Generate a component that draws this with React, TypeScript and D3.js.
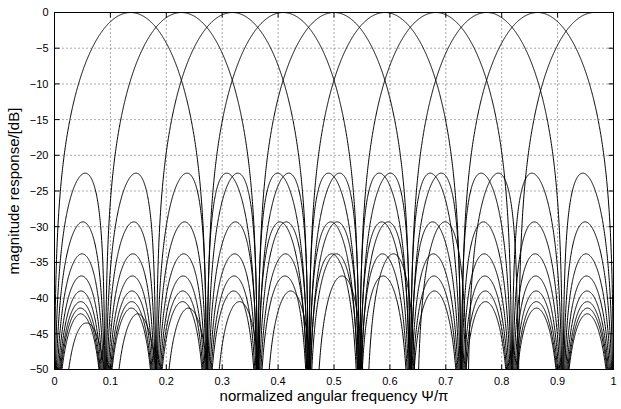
import React from "react";
import * as d3 from "d3";

// Channel centre frequencies (Ψ/π) read from the main-lobe peaks
const channelCenters = [0.136, 0.227, 0.318, 0.409, 0.5, 0.591, 0.682, 0.773, 0.864, 0.966];
// The last (band-edge) channel stays at 0 dB up to Ψ/π = 1
const flatAbovePeak = [false, false, false, false, false, false, false, false, false, true];
// Null spacing (Ψ/π): one side lobe every 1/11
const lobeWidth = 0.0909;
// Side-lobe peak levels [dB], lobes 2..10 bins away from a peak
const sidelobeLevels = [-22.5, -29.3, -33.8, -36.9, -39.0, -40.5, -41.4, -42.2, -43.5];
const xTicks = [0, 0.1, 0.2, 0.3, 0.4, 0.5, 0.6, 0.7, 0.8, 0.9, 1];
const yTicks = [-50, -45, -40, -35, -30, -25, -20, -15, -10, -5, 0];

const W = 621, H = 409;
const L = 54.5, R = 613.5, T = 12.5, B = 369.5;

// cosine-tapered kernel (sine-window shape), u in bins
const M = 18;
const s0 = Math.sin(Math.PI / (2 * M));
function kernel(u: number): number {
  const a = Math.abs(u);
  const s = Math.sin((Math.PI * a) / M) / s0;
  const den = 1 - s * s;
  if (Math.abs(a - 0.5) < 1e-4) return Math.PI / 4;
  return Math.cos(Math.PI * a) / den;
}
// peak of the kernel inside lobe k (for calibrating the read levels)
function lobePeak(k: number): number {
  let m = 0;
  for (let u = k - 0.5; u <= k + 0.5; u += 0.002) m = Math.max(m, Math.abs(kernel(u)));
  return 20 * Math.log10(m);
}
const corrDb = sidelobeLevels.map((lev, i) => lev - lobePeak(i + 2));
function corr(a: number): number {
  if (a < 1.5) return 0;
  const i = a - 2;
  if (i <= 0) return corrDb[0];
  if (i >= corrDb.length - 1) return corrDb[corrDb.length - 1];
  const k = Math.floor(i);
  const f = i - k;
  return corrDb[k] * (1 - f) + corrDb[k + 1] * f;
}
function response(u: number): number {
  const a = Math.abs(u);
  return Math.abs(kernel(a)) * Math.pow(10, corr(a) / 20);
}

export default function App() {
  const x = d3.scaleLinear().domain([0, 1]).range([L, R]);
  const y = d3.scaleLinear().domain([-50, 0]).range([B, T]);
  const grid = d3.range(0, 1.00001, 0.0004);
  const line = d3
    .line<[number, number]>()
    .x((d) => x(d[0]))
    .y((d) => y(d[1]));

  const curves = channelCenters.map((c, ci) =>
    grid.map((p) => {
      let u = (p - c) / lobeWidth;
      if (flatAbovePeak[ci] && u > 0) u = 0;
      const a = response(u);
      const db = Math.max(-70, 20 * Math.log10(a + 1e-9));
      return [p, db] as [number, number];
    })
  );

  const font = "'Liberation Sans', Arial, Helvetica, sans-serif";
  return (
    <svg
      width={W}
      height={H}
      style={{ position: "absolute", left: 0, top: 0, background: "#fff" }}
      fontFamily={font}
    >
      <defs>
        <clipPath id="plotClip">
          <rect x={L} y={T} width={R - L} height={B - T} />
        </clipPath>
      </defs>
      <rect x={0} y={0} width={W} height={H} fill="#fff" />
      {xTicks.slice(1, -1).map((t) => (
        <line key={"gx" + t} x1={x(t)} x2={x(t)} y1={T} y2={B} stroke="#555" strokeWidth={1} strokeDasharray="1,3" />
      ))}
      {yTicks.slice(1, -1).map((t) => (
        <line key={"gy" + t} x1={L} x2={R} y1={y(t)} y2={y(t)} stroke="#555" strokeWidth={1} strokeDasharray="1,3" />
      ))}
      <g clipPath="url(#plotClip)">
        {curves.map((pts, i) => (
          <path key={i} d={line(pts) || ""} fill="none" stroke="#000" strokeWidth={1} />
        ))}
      </g>
      {xTicks.map((t) => (
        <g key={"tx" + t}>
          <line x1={x(t)} x2={x(t)} y1={B} y2={B - 5} stroke="#000" />
          <line x1={x(t)} x2={x(t)} y1={T} y2={T + 5} stroke="#000" />
          <text x={x(t)} y={384.5} fontSize={11} textAnchor="middle" fill="#000">
            {String(t)}
          </text>
        </g>
      ))}
      {yTicks.map((t) => (
        <g key={"ty" + t}>
          <line x1={L} x2={L + 5} y1={y(t)} y2={y(t)} stroke="#000" />
          <line x1={R} x2={R - 5} y1={y(t)} y2={y(t)} stroke="#000" />
          <text x={48.5} y={y(t)} dy="0.36em" fontSize={11} textAnchor="end" fill="#000">
            {t === 0 ? "0" : "\u2212" + Math.abs(t)}
          </text>
        </g>
      ))}
      <rect x={L} y={T} width={R - L} height={B - T} fill="none" stroke="#000" strokeWidth={1} />
      <text x={(L + R) / 2} y={401} fontSize={15} textAnchor="middle" fill="#000">
        normalized angular frequency Ψ/π
      </text>
      <text
        transform={`translate(19,${(T + B) / 2}) rotate(-90)`}
        fontSize={15}
        textAnchor="middle"
        fill="#000"
      >
        magnitude response/[dB]
      </text>
    </svg>
  );
}
